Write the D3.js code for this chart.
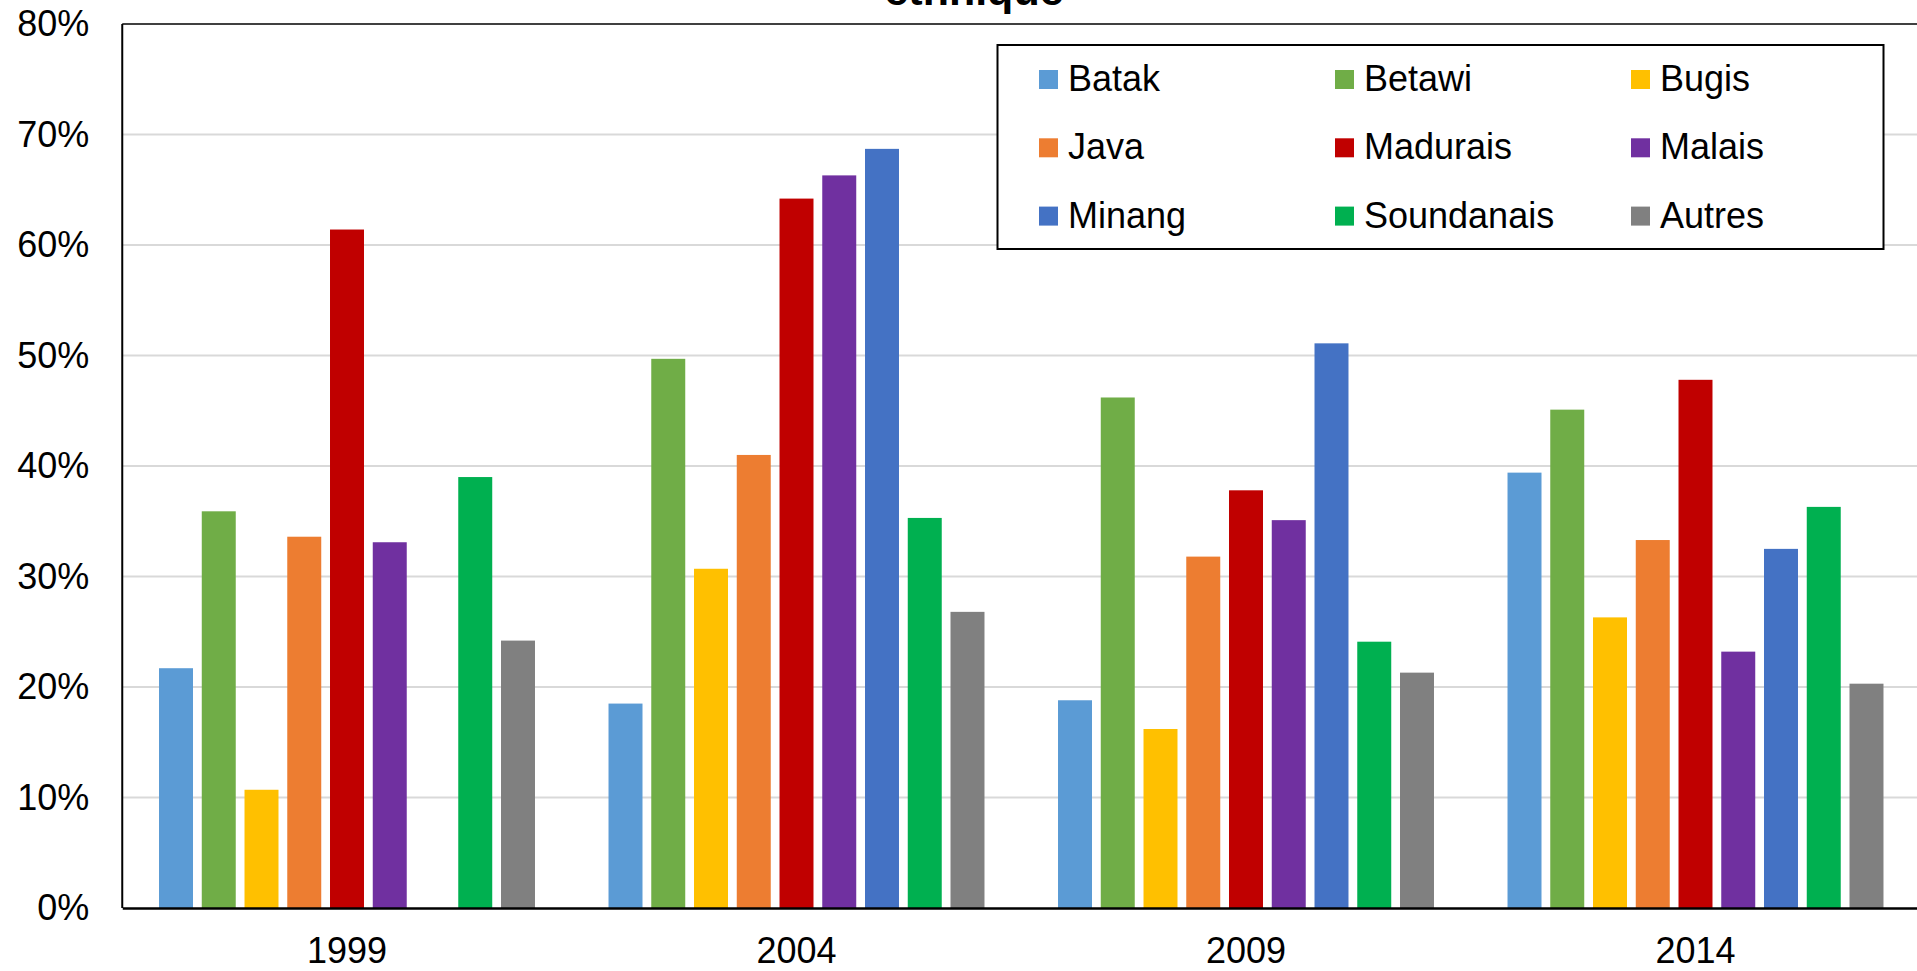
<!DOCTYPE html>
<html>
<head>
<meta charset="utf-8">
<script src="https://cdn.jsdelivr.net/npm/d3@7"></script>
<style>
  html, body { margin: 0; padding: 0; background: #fff; overflow: hidden; }
  svg { display: block; font-family: "Liberation Sans", Arial, sans-serif; }
</style>
</head>
<body>
<svg id="chart" width="1917" height="971"></svg>
<script>
// ---- data ----
const years = ["1999", "2004", "2009", "2014"];
const seriesNames = ["Batak", "Betawi", "Bugis", "Java", "Madurais", "Malais", "Minang", "Soundanais", "Autres"];
const seriesColors = ["#5B9BD5", "#70AD47", "#FFC000", "#ED7D31", "#C00000", "#7030A0", "#4472C4", "#00B050", "#808080"];
const batak      = [0.217, 0.185, 0.188, 0.394];
const betawi     = [0.359, 0.497, 0.462, 0.451];
const bugis      = [0.107, 0.307, 0.162, 0.263];
const java       = [0.336, 0.410, 0.318, 0.333];
const madurais   = [0.614, 0.642, 0.378, 0.478];
const malais     = [0.331, 0.663, 0.351, 0.232];
const minang     = [null,  0.687, 0.511, 0.325];
const soundanais = [0.390, 0.353, 0.241, 0.363];
const autres     = [0.242, 0.268, 0.213, 0.203];
const yTicks = [0, 0.1, 0.2, 0.3, 0.4, 0.5, 0.6, 0.7, 0.8];
const titleText = "ethnique";

const seriesValues = [batak, betawi, bugis, java, madurais, malais, minang, soundanais, autres];

// ---- layout ----
const svg = d3.select("#chart");
const plotLeft = 122.25, plotRight = 1920.25, plotTop = 24, plotBottom = 908;

const x0 = d3.scaleBand().domain(years).range([plotLeft, plotRight]).padding(0);
const x1 = d3.scaleBand().domain(seriesNames).range([0, x0.bandwidth()])
  .paddingInner(0.205).paddingOuter(0.86);
const y = d3.scaleLinear().domain([0, 0.8]).range([plotBottom, plotTop]);
const color = d3.scaleOrdinal().domain(seriesNames).range(seriesColors);

// gridlines
svg.append("g")
  .selectAll("line").data(yTicks.filter(d => d > 0 && d < 0.8)).join("line")
  .attr("x1", plotLeft).attr("x2", plotRight)
  .attr("y1", d => y(d)).attr("y2", d => y(d))
  .attr("stroke", "#d9d9d9").attr("stroke-width", 2);

// bars
const rows = [];
seriesNames.forEach((s, i) => {
  years.forEach((yr, j) => {
    const v = seriesValues[i][j];
    if (v != null) rows.push({ series: s, year: yr, value: v });
  });
});
svg.append("g").selectAll("rect").data(rows).join("rect")
  .attr("x", d => x0(d.year) + x1(d.series))
  .attr("width", x1.bandwidth())
  .attr("y", d => y(d.value))
  .attr("height", d => y(0) - y(d.value))
  .attr("fill", d => color(d.series));

// plot border (top and left)
svg.append("line").attr("x1", plotLeft).attr("x2", plotRight)
  .attr("y1", plotTop).attr("y2", plotTop).attr("stroke", "#000").attr("stroke-width", 1.5);
svg.append("line").attr("x1", plotLeft).attr("x2", plotLeft)
  .attr("y1", plotTop).attr("y2", plotBottom).attr("stroke", "#000").attr("stroke-width", 2);

// y axis labels
const yAxis = d3.axisLeft(y).tickValues(yTicks).tickFormat(d3.format(".0%")).tickSize(0).tickPadding(33);
const gy = svg.append("g").attr("transform", `translate(${plotLeft},0)`).call(yAxis);
gy.select(".domain").remove();
gy.selectAll("text").attr("font-size", 36).attr("fill", "#000")
  .attr("font-family", "'Liberation Sans', Arial, sans-serif");

// x axis
const xAxis = d3.axisBottom(x0).tickSize(0).tickPadding(29);
const gx = svg.append("g").attr("transform", `translate(0,${plotBottom})`).call(xAxis);
gx.select(".domain").attr("stroke", "#000").attr("stroke-width", 2.5);
gx.selectAll("text").attr("font-size", 36).attr("fill", "#000")
  .attr("font-family", "'Liberation Sans', Arial, sans-serif");

// title (only lower part visible)
svg.append("text").attr("x", 974).attr("y", 5).attr("text-anchor", "middle")
  .attr("font-size", 43).attr("font-weight", "bold").attr("fill", "#000").text(titleText);

// legend
const lg = svg.append("g");
lg.append("rect").attr("x", 997.5).attr("y", 45).attr("width", 886).attr("height", 204)
  .attr("fill", "#fff").attr("stroke", "#000").attr("stroke-width", 2);
const colX = [1039, 1335, 1631], rowY = [70, 138.3, 206.6];
seriesNames.forEach((s, i) => {
  const cx = colX[i % 3], cy = rowY[Math.floor(i / 3)];
  lg.append("rect").attr("x", cx).attr("y", cy).attr("width", 19).attr("height", 19).attr("fill", color(s));
  lg.append("text").attr("x", cx + 29).attr("y", cy + 21).attr("font-size", 36).attr("fill", "#000").text(s);
});
</script>
</body>
</html>
